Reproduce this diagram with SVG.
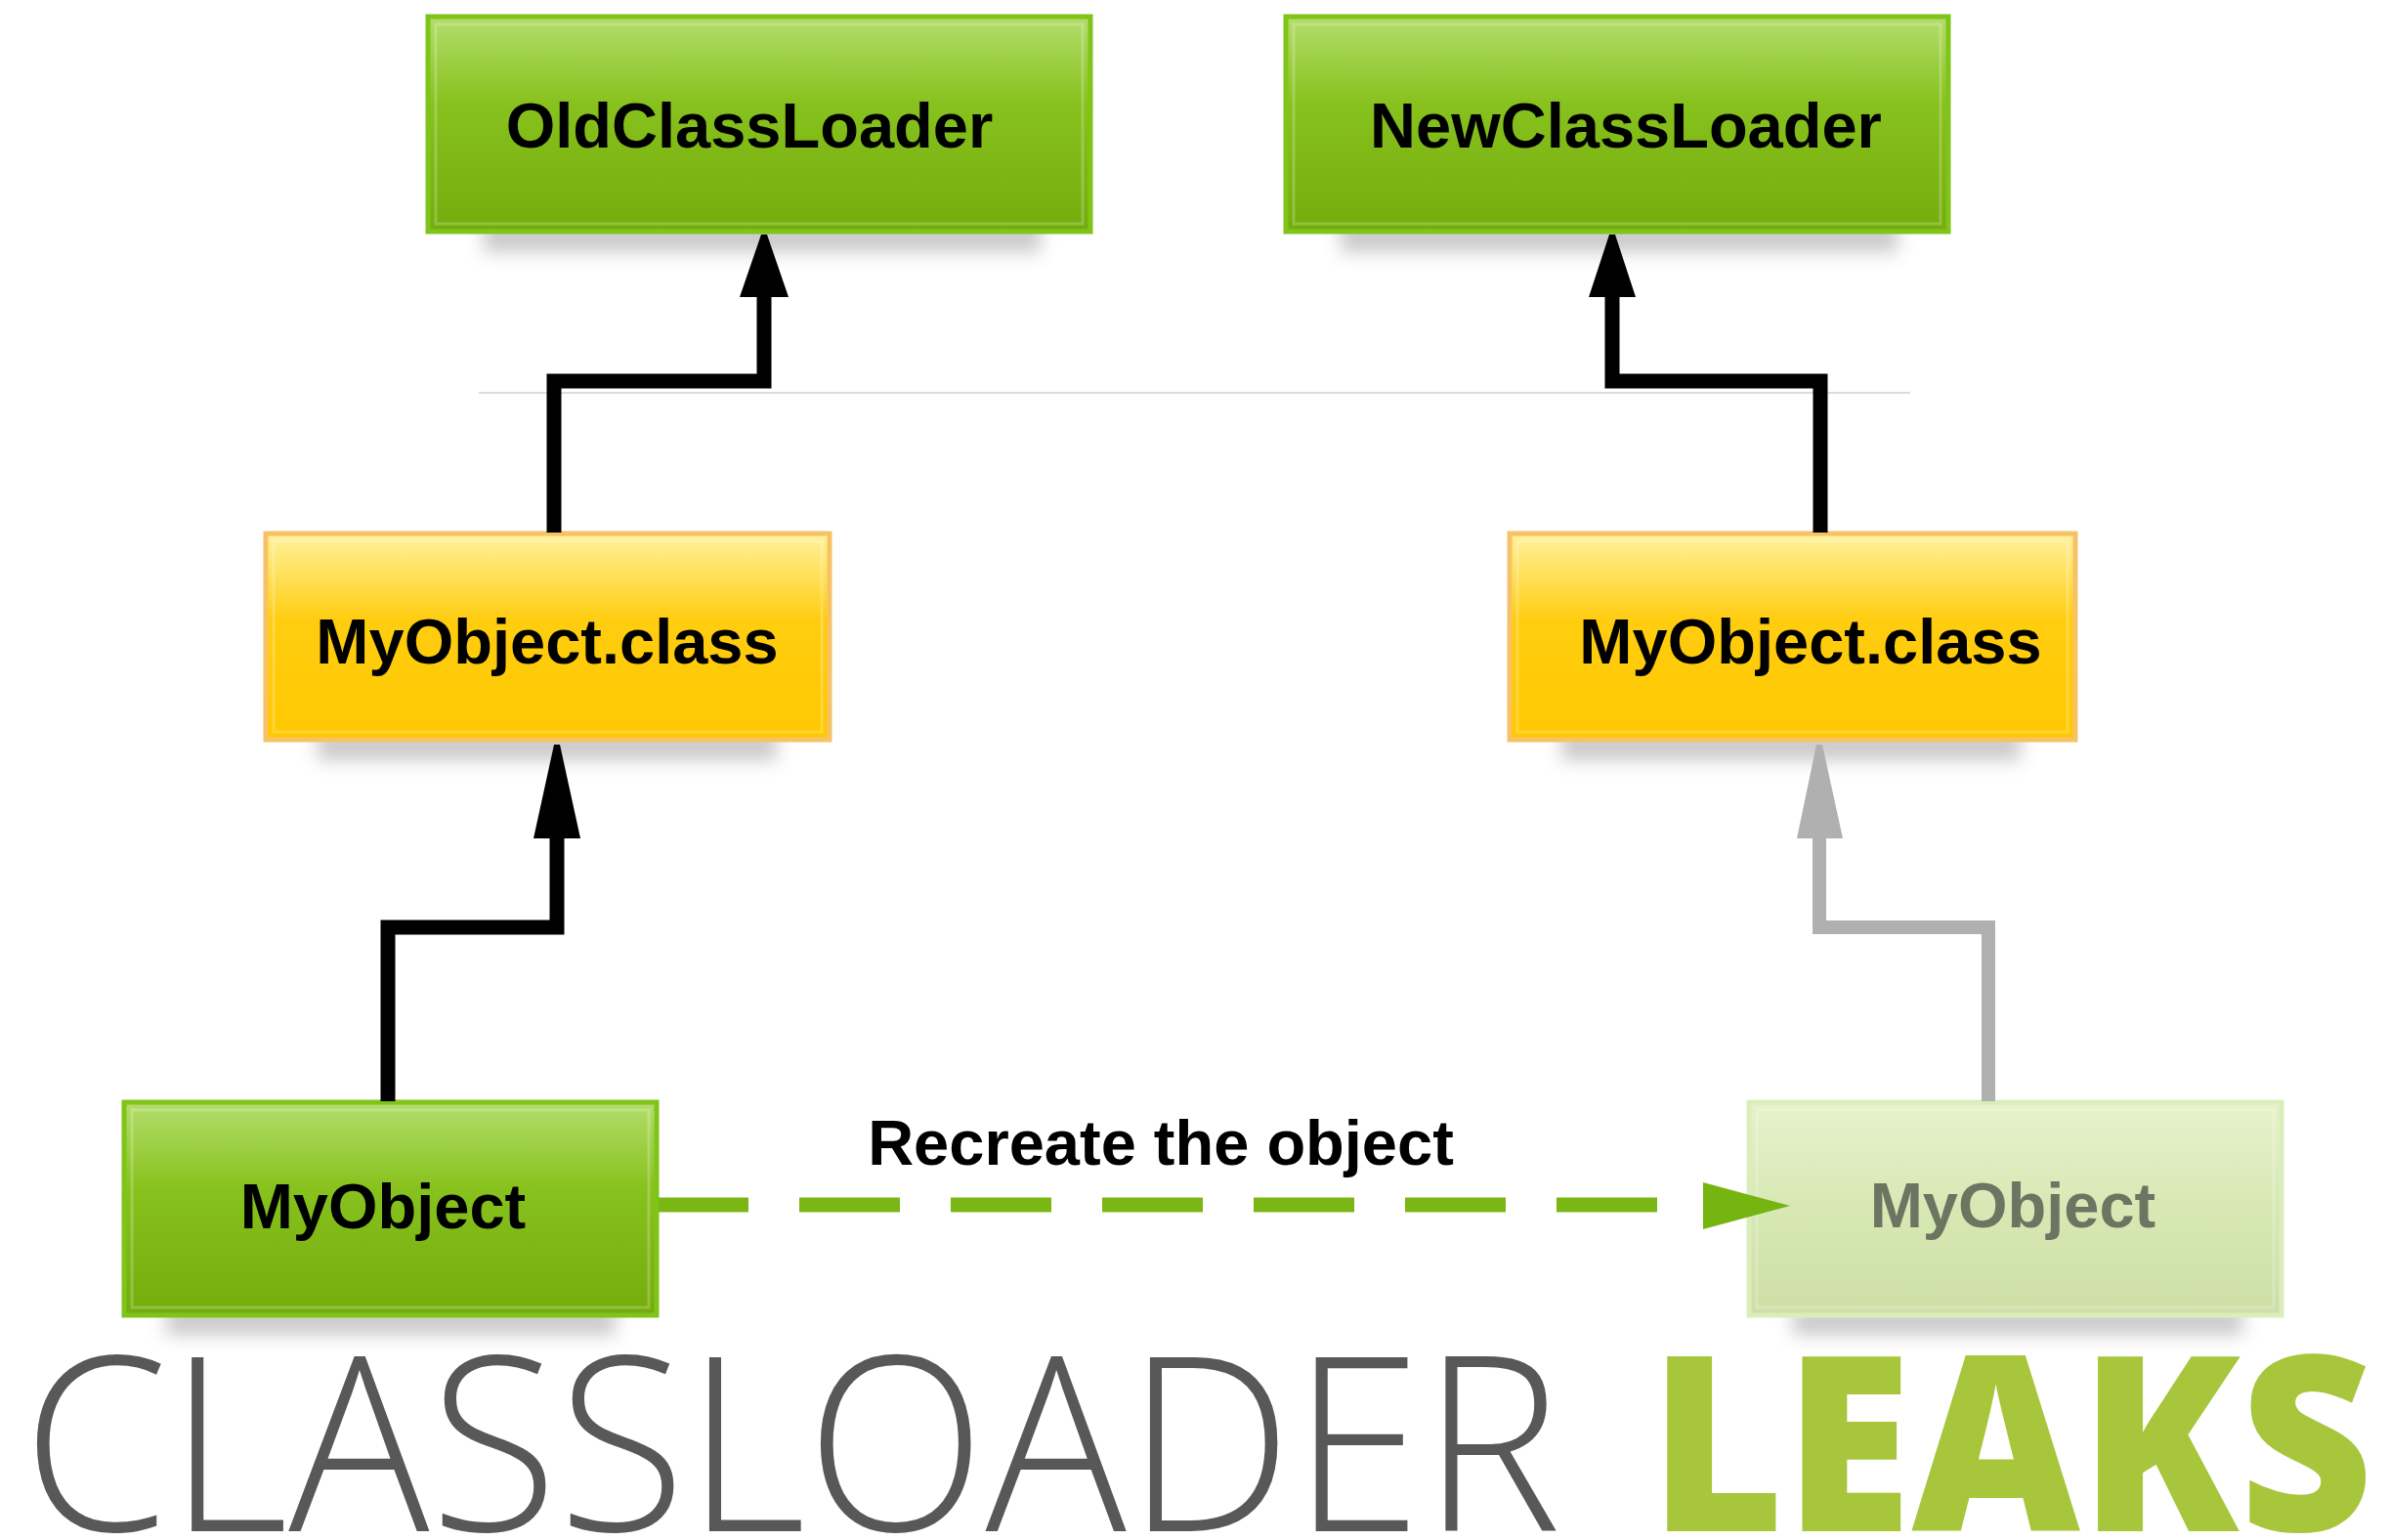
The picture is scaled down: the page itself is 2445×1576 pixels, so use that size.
<svg xmlns="http://www.w3.org/2000/svg" width="2445" height="1576" viewBox="0 0 2445 1576">
  <defs>
    <linearGradient id="gGreen" x1="0" y1="0" x2="0" y2="1">
      <stop offset="0" stop-color="#b3dd6c"/>
      <stop offset="0.4" stop-color="#88c21e"/>
      <stop offset="1" stop-color="#74ac0c"/>
    </linearGradient>
    <linearGradient id="gYellow" x1="0" y1="0" x2="0" y2="1">
      <stop offset="0" stop-color="#fff29e"/>
      <stop offset="0.42" stop-color="#ffcd10"/>
      <stop offset="1" stop-color="#ffc800"/>
    </linearGradient>
    <linearGradient id="gFaded" x1="0" y1="0" x2="0" y2="1">
      <stop offset="0" stop-color="#e6f2cc"/>
      <stop offset="0.5" stop-color="#d7e8b4"/>
      <stop offset="1" stop-color="#cddfa6"/>
    </linearGradient>
    <filter id="blur" x="-20%" y="-100%" width="140%" height="300%">
      <feGaussianBlur stdDeviation="9"/>
    </filter>
  </defs>
  <style>
    .lbl { font-family: "Liberation Sans", Arial, Helvetica, sans-serif; font-weight: bold; font-size: 65px; fill: #000; text-anchor: middle; }
    .green { fill: url(#gGreen); stroke: #80c41a; stroke-width: 5; }
    .yellow { fill: url(#gYellow); stroke: #f7c266; stroke-width: 5; }
    .faded { fill: url(#gFaded); stroke: #dcedbc; stroke-width: 5; }
    .inner { fill: none; stroke: #ffffff; stroke-opacity: 0.22; stroke-width: 3; }
    .shadow { fill: #888; opacity: 0.45; filter: url(#blur); }
    .conn { fill: none; stroke: #000; stroke-width: 15; stroke-linejoin: miter; }
    .connGray { fill: none; stroke: #b0b0b0; stroke-width: 14; stroke-linejoin: miter; }
    .dash { fill: none; stroke: #7ab714; stroke-width: 15; stroke-dasharray: 103 52; stroke-dashoffset: 11; }
  </style>
  <rect width="2445" height="1576" fill="#ffffff"/>

  <!-- separator line -->
  <line x1="490" y1="402" x2="1955" y2="402" stroke="#dcdcdc" stroke-width="2"/>

  <g id="oldClassLoader">
    <rect class="shadow" x="495" y="228" width="570" height="30"/>
    <rect class="green" x="438" y="17" width="678" height="220"/>
    <rect class="inner" x="446" y="25" width="662" height="204"/>
    <text class="lbl" x="767" y="151">OldClassLoader</text>
  </g>

  <g id="newClassLoader">
    <rect class="shadow" x="1372" y="228" width="570" height="30"/>
    <rect class="green" x="1316" y="17" width="678" height="220"/>
    <rect class="inner" x="1324" y="25" width="662" height="204"/>
    <text class="lbl" x="1664" y="151">NewClassLoader</text>
  </g>

  <g id="myObjectClassLeft">
    <rect class="shadow" x="325" y="748" width="470" height="30"/>
    <rect class="yellow" x="272" y="546" width="577" height="211"/>
    <rect class="inner" x="280" y="554" width="561" height="195"/>
    <text class="lbl" x="560" y="679">MyObject.class</text>
  </g>

  <g id="myObjectClassRight">
    <rect class="shadow" x="1598" y="748" width="470" height="30"/>
    <rect class="yellow" x="1545" y="546" width="579" height="211"/>
    <rect class="inner" x="1553" y="554" width="563" height="195"/>
    <text class="lbl" x="1853" y="679">MyObject.class</text>
  </g>

  <g id="myObjectLeft">
    <rect class="shadow" x="170" y="1338" width="460" height="28"/>
    <rect class="green" x="127" y="1128" width="545" height="218"/>
    <rect class="inner" x="135" y="1136" width="529" height="202"/>
    <text class="lbl" x="392" y="1257">MyObject</text>
  </g>

  <g id="myObjectRight">
    <rect class="shadow" x="1835" y="1338" width="460" height="28" opacity="0.25"/>
    <rect class="faded" x="1790" y="1128" width="545" height="218"/>
    <rect class="inner" x="1798" y="1136" width="529" height="202"/>
    <text class="lbl" x="2060" y="1256" style="fill:#6b7561">MyObject</text>
  </g>

  <g id="connectors">
    <!-- MyObject.class (left) -> OldClassLoader -->
    <polyline class="conn" points="567,545 567,390 782,390 782,300"/>
    <polygon points="757,304 779,240 785,240 807,304" fill="#000"/>
    <!-- MyObject.class (right) -> NewClassLoader -->
    <polyline class="conn" points="1863,545 1863,390 1650,390 1650,300"/>
    <polygon points="1626,304 1647,240 1653,240 1674,304" fill="#000"/>
    <!-- MyObject (left) -> MyObject.class (left) -->
    <polyline class="conn" points="397,1127 397,949 570,949 570,854"/>
    <polygon points="546,858 567,762 573,762 594,858" fill="#000"/>
    <!-- MyObject (right, faded) -> MyObject.class (right) -->
    <polyline class="connGray" points="2035,1127 2035,949 1862,949 1862,854"/>
    <polygon points="1839,858 1859,762 1865,762 1886,858" fill="#b0b0b0"/>
    <!-- Recreate the object -->
    <line class="dash" x1="674" y1="1233" x2="1745" y2="1233"/>
    <polygon points="1743,1210 1832,1234 1743,1258" fill="#76b510"/>
    <text class="lbl" x="1188" y="1192">Recreate the object</text>
  </g>

  <g id="title">
    <text x="23" y="1567" font-family="'Open Sans', 'Liberation Sans', sans-serif" font-weight="300" font-size="250" fill="#585858" textLength="1575" lengthAdjust="spacingAndGlyphs">CLASSLOADER</text>
    <text x="1688" y="1567" font-family="'Open Sans', 'Liberation Sans', sans-serif" font-weight="800" font-size="250" fill="#a8c63c" textLength="741" lengthAdjust="spacingAndGlyphs">LEAKS</text>
  </g>
</svg>
